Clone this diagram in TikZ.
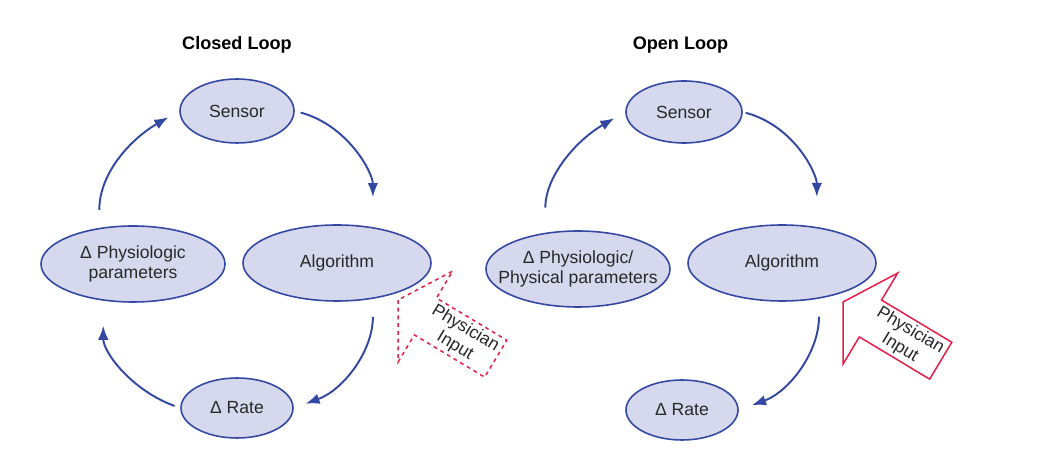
\documentclass[tikz,border=0pt]{standalone}
\usepackage{fontspec}
\setmainfont{Liberation Sans}
\usepackage{tikz}
\usetikzlibrary{arrows.meta, shapes.geometric}
\definecolor{elfill}{RGB}{214,216,238}
\definecolor{elline}{RGB}{50,72,162}
\definecolor{phred}{RGB}{228,30,72}
\definecolor{txt}{RGB}{40,40,40}

\begin{document}
\begin{tikzpicture}[font=\fontsize{10}{11.5}\selectfont, text=txt,
  st/.style = {ellipse, draw=elline, fill=elfill, line width=0.9pt, inner sep=0pt, align=center},
  flow/.style = {draw=elline, line width=1.1pt, -{Latex[length=8pt,width=6pt]}},
  ttl/.style = {font=\fontsize{10.3}{12}\selectfont\bfseries, text=black},
  phys/.style = {draw=phred, line width=0.85pt, line join=miter}]
\useasboundingbox (0,0) rectangle (20.76,9.5);

% closed loop
\node[ttl] (cl) at (4.74,8.6) {Closed Loop};
\node[st, minimum width=2.28cm, minimum height=1.28cm] (sen1) at (4.74,7.28) {Sensor};
\node[st, minimum width=3.76cm, minimum height=1.52cm] (alg1) at (6.74,4.24) {Algorithm};
\node[st, minimum width=3.68cm, minimum height=1.52cm] (phy1) at (2.66,4.22) {Δ Physiologic\\parameters};
\node[st, minimum width=2.24cm, minimum height=1.2cm] (rate1) at (4.74,1.34) {Δ Rate};
\draw[flow, shorten <=0.36cm, shorten >=0.25cm] (phy1.133) to[out=90, in=210] (sen1.west);
\draw[flow, shorten <=0.12cm, shorten >=0.6cm] (sen1.east) to[out=-15, in=90] (alg1.45);
\draw[flow, shorten <=0.36cm, shorten >=0.25cm] (alg1.-45) to[out=-90, in=20] (rate1.east);
\draw[flow, shorten <=0.12cm, shorten >=0.5cm] (rate1.west) to[out=160, in=-90] (phy1.231);
\begin{scope}[shift={(7.96,3.5)}, rotate=149]
\draw[phys, dash pattern=on 2.2pt off 2.2pt] (0,0) -- (-0.64,1.06) -- (-0.64,0.43) -- (-2.28,0.43)
  -- (-2.28,-0.43) -- (-0.64,-0.43) -- (-0.64,-1.06) -- cycle;
\node[rotate=-31, align=center, inner sep=0pt] (pin1) at (-1.45,0) {Physician\\Input};
\end{scope}

% open loop
\node[ttl] (ol) at (13.61,8.6) {Open Loop};
\node[st, minimum width=2.32cm, minimum height=1.24cm] (sen2) at (13.68,7.26) {Sensor};
\node[st, minimum width=3.76cm, minimum height=1.52cm] (alg2) at (15.64,4.24) {Algorithm};
\node[st, minimum width=3.68cm, minimum height=1.52cm, inner xsep=-8.5pt] (phy2) at (11.56,4.12) {Δ Physiologic/\\Physical parameters};
\node[st, minimum width=2.24cm, minimum height=1.2cm] (rate2) at (13.64,1.3) {Δ Rate};
\draw[flow, shorten <=0.5cm, shorten >=0.25cm] (phy2.132) to[out=90, in=210] (sen2.west);
\draw[flow, shorten <=0.06cm, shorten >=0.6cm] (sen2.east) to[out=-15, in=90] (alg2.46);
\draw[flow, shorten <=0.36cm, shorten >=0.28cm] (alg2.-44) to[out=-90, in=20] (rate2.east);
\begin{scope}[shift={(16.86,3.46)}, rotate=149]
\draw[phys] (0,0) -- (-0.64,1.06) -- (-0.64,0.43) -- (-2.28,0.43)
  -- (-2.28,-0.43) -- (-0.64,-0.43) -- (-0.64,-1.06) -- cycle;
\node[rotate=-31, align=center, inner sep=0pt] (pin2) at (-1.45,0) {Physician\\Input};
\end{scope}
\end{tikzpicture}
\end{document}
